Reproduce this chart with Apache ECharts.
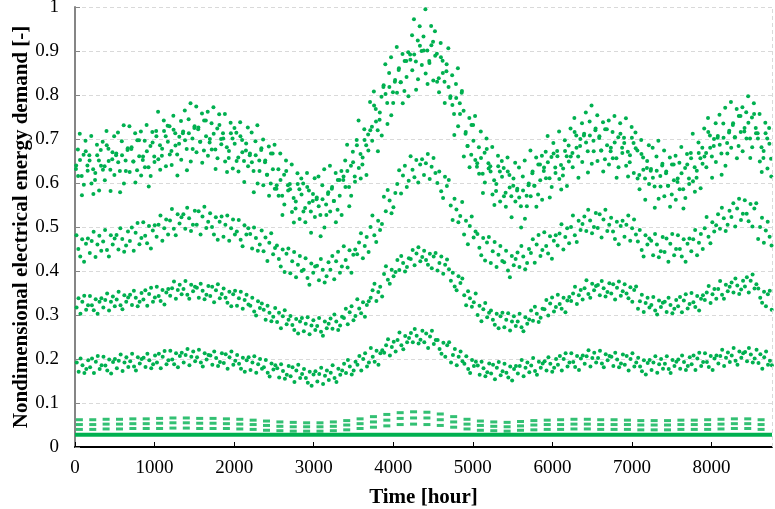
<!DOCTYPE html>
<html>
<head>
<meta charset="utf-8">
<title>Nondimensional electrical energy demand</title>
<script src="https://cdn.jsdelivr.net/npm/echarts@6/dist/echarts.min.js"></script>
<style>
  html, body { margin: 0; padding: 0; background: #ffffff; }
  #chart { width: 775px; height: 509px; }
</style>
</head>
<body>
<div id="chart"></div>
<script>
// Year of hourly demand, one sample per day for each daytime level (values in thousandths).
const HOURS_IN_YEAR = 8760;

// Peak daytime level, two samples per day
const peakA = [
632,676,712,616,664,696,640, 663,707,631,607,687,651,675, 694,638,718,678,630,654,706, 663,715,627,695,731,651,675,
729,677,649,713,629,697,717, 652,696,732,636,684,716,660, 718,762,686,662,742,706,730, 729,673,753,713,665,689,741,
713,765,677,745,781,701,725, 774,722,694,758,674,742,762, 692,736,772,676,724,756,700, 713,757,681,657,737,701,725,
714,658,738,698,650,674,726, 663,715,627,695,731,651,675, 699,647,619,683,599,667,687, 587,631,667,571,619,651,595,
598,642,566,542,622,586,610, 599,543,623,583,535,559,611, 563,615,527,595,631,551,575, 639,587,559,623,539,607,627,
607,651,687,591,639,671,615, 698,742,666,642,722,686,710, 784,728,808,768,720,744,796, 818,870,782,850,886,806,830,
909,857,829,893,809,877,897, 892,936,972,876,924,956,900, 933,995,901,877,957,921,945, 894,838,918,878,830,854,906,
793,845,757,825,861,781,805, 764,712,684,748,664,732,752, 637,681,717,621,669,701,645, 638,682,606,582,662,626,650,
634,578,658,618,570,594,646, 583,635,547,615,651,571,595, 674,622,594,658,574,642,662, 627,671,707,611,659,691,635,
673,717,641,617,697,661,685, 724,668,748,708,660,684,736, 708,760,672,740,776,696,720, 754,702,674,738,654,722,742,
672,716,752,656,704,736,680, 703,747,671,647,727,691,715, 674,618,698,658,610,634,686, 628,680,592,660,696,616,640,
674,622,594,658,574,642,662, 602,646,682,586,634,666,610, 668,712,636,612,692,656,680, 724,668,748,708,660,684,736,
703,755,667,735,771,691,715, 784,732,704,768,684,752,772, 717,761,797,701,749,781,725, 713,757,681,657,737,701,725,
655
];
const peakB = [
640,616,652,572,596,672,628, 651,599,575,623,663,583,639, 630,606,686,650,582,670,618, 667,647,579,663,599,627,679,
625,681,649,601,697,661,617, 660,636,672,592,616,692,648, 706,654,630,678,718,638,694, 665,641,721,685,617,705,653,
717,697,629,713,649,677,729, 670,726,694,646,742,706,662, 700,676,712,632,656,732,688, 701,649,625,673,713,633,689,
650,626,706,670,602,690,638, 667,647,579,663,599,627,679, 595,651,619,571,667,631,587, 595,571,607,527,551,627,583,
586,534,510,558,598,518,574, 535,511,591,555,487,575,523, 567,547,479,563,499,527,579, 535,591,559,511,607,571,527,
615,591,627,547,571,647,603, 686,634,610,658,698,618,674, 720,696,776,740,672,760,708, 822,802,734,818,754,782,834,
805,861,829,781,877,841,797, 880,856,892,812,836,912,868, 901,849,825,873,913,833,889, 830,806,886,850,782,870,818,
797,777,709,793,729,757,809, 660,716,684,636,732,696,652, 645,621,657,577,601,677,633, 626,574,550,598,638,558,614,
570,546,626,590,522,610,558, 587,567,499,583,519,547,599, 570,626,594,546,642,606,562, 635,611,647,567,591,667,623,
661,609,585,633,673,593,649, 660,636,716,680,612,700,648, 712,692,624,708,644,672,724, 650,706,674,626,722,686,642,
680,656,692,612,636,712,668, 691,639,615,663,703,623,679, 610,586,666,630,562,650,598, 632,612,544,628,564,592,644,
570,626,594,546,642,606,562, 610,586,622,542,566,642,598, 656,604,580,628,668,588,644, 660,636,716,680,612,700,648,
707,687,619,703,639,667,719, 680,736,704,656,752,716,672, 725,701,737,657,681,757,713, 701,649,625,673,713,633,689,
615
];

// Upper shoulder level
const shoulderHigh = [
481,450,433,472,421,462,474, 441,468,489,432,460,480,446, 467,493,448,433,481,460,474, 482,449,497,473,444,458,490,
468,499,446,487,509,461,475, 511,480,463,502,451,492,504, 478,505,526,469,497,517,483, 515,541,496,481,529,508,522,
529,496,544,520,491,505,537, 505,536,483,524,546,498,512, 531,500,483,522,471,512,524, 478,505,526,469,497,517,483,
490,516,471,456,504,483,497, 484,451,499,475,446,460,492, 445,476,423,464,486,438,452, 458,427,410,449,398,439,451,
395,422,443,386,414,434,400, 403,429,384,369,417,396,410, 412,379,427,403,374,388,420, 403,434,381,422,444,396,410,
456,425,408,447,396,437,449, 438,465,486,429,457,477,443, 500,526,481,466,514,493,507, 569,536,584,560,531,545,577,
598,629,576,617,639,591,605, 661,630,613,652,601,642,654, 618,645,666,609,637,657,623, 600,626,581,566,614,593,607,
549,516,564,540,511,525,557, 483,514,461,502,524,476,490, 484,453,436,475,424,465,477, 418,445,466,409,437,457,423,
420,446,401,386,434,413,427, 442,409,457,433,404,418,450, 441,472,419,460,482,434,448, 488,457,440,479,428,469,481,
458,485,506,449,477,497,463, 500,526,481,466,514,493,507, 524,491,539,515,486,500,532, 498,529,476,517,539,491,505,
521,490,473,512,461,502,514, 478,505,526,469,497,517,483, 467,493,448,433,481,460,474, 469,436,484,460,431,445,477,
443,474,421,462,484,436,450, 481,450,433,472,421,462,474, 445,472,493,436,464,484,450, 497,523,478,463,511,490,504,
529,496,544,520,491,505,537, 523,554,501,542,564,516,530, 561,530,513,552,501,542,554, 473,500,521,464,492,512,478,
458
];

// Lower shoulder level
const shoulderLow = [
317,338,303,330,344,312,322, 343,322,311,336,303,330,338, 317,334,349,310,330,342,320, 335,353,322,313,345,330,340,
346,323,355,339,320,330,350, 335,356,321,348,362,330,340, 364,343,332,357,324,351,359, 344,361,376,337,357,369,347,
359,377,346,337,369,354,364, 362,339,371,355,336,346,366, 343,364,329,356,370,338,348, 360,339,328,353,320,347,355,
321,338,353,314,334,346,324, 321,339,308,299,331,316,326, 312,289,321,305,286,296,316, 284,305,270,297,311,279,289,
298,277,266,291,258,285,293, 263,280,295,256,276,288,266, 275,293,262,253,285,270,280, 292,269,301,285,266,276,296,
293,314,279,306,320,288,298, 336,315,304,329,296,323,331, 339,356,371,332,352,364,342, 393,411,380,371,403,388,398,
425,402,434,418,399,409,429, 427,448,413,440,454,422,432, 446,425,414,439,406,433,441, 401,418,433,394,414,426,404,
378,396,365,356,388,373,383, 345,322,354,338,319,329,349, 300,321,286,313,327,295,305, 310,289,278,303,270,297,305,
272,289,304,265,285,297,275, 285,303,272,263,295,280,290, 310,287,319,303,284,294,314, 313,334,299,326,340,308,318,
346,325,314,339,306,333,341, 332,349,364,325,345,357,335, 361,379,348,339,371,356,366, 368,345,377,361,342,352,372,
349,370,335,362,376,344,354, 370,349,338,363,330,357,365, 314,331,346,307,327,339,317, 323,341,310,301,333,318,328,
330,307,339,323,304,314,334, 320,341,306,333,347,315,325, 350,329,318,343,310,337,345, 334,351,366,327,347,359,337,
359,377,346,337,369,354,364, 374,351,383,367,348,358,378, 365,386,351,378,392,360,370, 360,339,328,353,320,347,355,
312
];

// Early-morning / evening level
const eveningLevel = [
192,171,201,186,168,177,197, 181,201,168,194,207,177,186, 205,185,174,199,167,193,200, 179,196,210,173,192,204,182,
195,212,183,174,204,190,200, 203,182,212,197,179,188,208, 192,212,179,205,218,188,197, 219,199,188,213,181,207,214,
192,209,223,186,205,217,195, 204,221,192,183,213,199,209, 208,187,217,202,184,193,213, 191,211,178,204,217,187,196,
209,189,178,203,171,197,204, 175,192,206,169,188,200,178, 181,198,169,160,190,176,186, 179,158,188,173,155,164,184,
161,181,148,174,187,157,166, 177,157,146,171,139,165,172, 149,166,180,143,162,174,152, 169,186,157,148,178,164,174,
189,168,198,183,165,174,194, 187,207,174,200,213,183,192, 225,205,194,219,187,213,220, 214,231,245,208,227,239,217,
243,260,231,222,252,238,248, 259,238,268,253,235,244,264, 238,258,225,251,264,234,243, 243,223,212,237,205,231,238,
192,209,223,186,205,217,195, 189,206,177,168,198,184,194, 185,164,194,179,161,170,190, 167,187,154,180,193,163,172,
189,169,158,183,151,177,184, 167,184,198,161,180,192,170, 185,202,173,164,194,180,190, 195,174,204,189,171,180,200,
187,207,174,200,213,183,192, 213,193,182,207,175,201,208, 189,206,220,183,202,214,192, 202,219,190,181,211,197,207,
205,184,214,199,181,190,210, 187,207,174,200,213,183,192, 203,183,172,197,165,191,198, 175,192,206,169,188,200,178,
189,206,177,168,198,184,194, 199,178,208,193,175,184,204, 188,208,175,201,214,184,193, 213,193,182,207,175,201,208,
190,207,221,184,203,215,193, 208,225,196,187,217,203,213, 216,195,225,210,192,201,221, 191,211,178,204,217,187,196,
186
];

// Night levels: one working-week value per row (thousandths)
const nightRow3 = [62,62,63,63,64,64,65,66,66,65,65,64,63,61,59,57,56,55,55,57,60,64,69,74,78,80,79,75,69,63,59,57,56,58,60,61,62,63,63,62,62,61,60,60,60,61,61,62,63,64,64,62,60];
const nightRow2 = [51,51,52,52,53,53,54,55,55,54,54,53,52,51,49,47,46,46,46,47,50,53,57,61,65,66,66,62,57,52,49,47,46,48,50,51,51,52,52,51,51,51,50,50,50,51,51,51,52,53,53,51,50];
const nightRow1 = [40,40,41,41,42,42,42,43,43,42,42,42,41,40,38,37,36,36,36,37,39,42,45,48,51,52,51,49,45,41,38,37,36,38,39,40,40,41,41,40,40,40,39,39,39,40,40,40,41,42,42,40,39];
// Base load held through the whole year
const baseHours = [0, 8760];
const baseLevel = [28, 28];

const GREEN = '#00b050';
const FONT = 'Liberation Serif';

function perDay(values, hourOfDay) {
  return values.map((v, d) => [d * 24 + hourOfDay, v / 1000]);
}
function perWeek(values, hourOfWeek) {
  return values.map((v, w) => [w * 168 + hourOfWeek, v / 1000]);
}

const dotSeries = (data) => ({
  type: 'scatter', data, symbol: 'circle', symbolSize: 4,
  itemStyle: { color: GREEN, opacity: 1 }, silent: true
});
const dashSeries = (data) => ({
  type: 'scatter', data, symbol: 'rect', symbolSize: [7, 3],
  itemStyle: { color: GREEN }, silent: true
});

const chart = echarts.init(document.getElementById('chart'), null, { renderer: 'canvas' });
chart.setOption({
  animation: false,
  backgroundColor: '#ffffff',
  grid: { left: 75, right: 3, top: 7, bottom: 62, containLabel: false, outerBoundsMode: 'none' },
  xAxis: {
    type: 'value', min: 0, max: HOURS_IN_YEAR, interval: 1000,
    name: 'Time [hour]', nameLocation: 'middle', nameGap: 40,
    nameTextStyle: { fontFamily: FONT, fontWeight: 'bold', fontSize: 21, color: '#000' },
    axisLine: { show: true, onZero: false, lineStyle: { color: '#000000', width: 2 } },
    axisTick: { show: true, inside: true, length: 5, lineStyle: { color: '#000000', width: 1 } },
    axisLabel: { fontFamily: FONT, fontSize: 19, color: '#000', margin: 12, showMaxLabel: false,
                 formatter: (v) => String(v) },
    splitLine: { show: false }
  },
  yAxis: {
    type: 'value', min: 0, max: 1, interval: 0.1,
    name: 'Nondimensional electrical energy demand [-]', nameLocation: 'middle', nameGap: 43,
    nameMoveOverlap: false,
    nameTextStyle: { fontFamily: FONT, fontWeight: 'bold', fontSize: 21, color: '#000' },
    axisLine: { show: true, lineStyle: { color: '#858585', width: 2 } },
    axisTick: { show: true, inside: true, length: 5, lineStyle: { color: '#858585', width: 1 } },
    axisLabel: { fontFamily: FONT, fontSize: 19, color: '#000', margin: 16,
                 formatter: (v) => String(Math.round(v * 10) / 10) },
    splitLine: { show: true, lineStyle: { color: '#d9d9d9', width: 1, type: [4, 3] } }
  },
  series: [
    {
      type: 'line', data: baseHours.map((h, i) => [h, baseLevel[i] / 1000]),
      symbol: 'none', lineStyle: { color: GREEN, width: 4 }, silent: true,
      markLine: {
        silent: true, symbol: 'none', label: { show: false },
        lineStyle: { color: '#d9d9d9', type: [4, 3], width: 1 },
        data: [{ xAxis: HOURS_IN_YEAR }]
      }
    },
    dashSeries(perWeek(nightRow1, 55)),
    dashSeries(perWeek(nightRow2, 55)),
    dashSeries(perWeek(nightRow3, 55)),
    dotSeries(perDay(eveningLevel, 22)),
    dotSeries(perDay(shoulderLow, 20)),
    dotSeries(perDay(shoulderHigh, 18)),
    dotSeries(perDay(peakB, 15)),
    dotSeries(perDay(peakA, 12))
  ]
});
</script>
</body>
</html>
